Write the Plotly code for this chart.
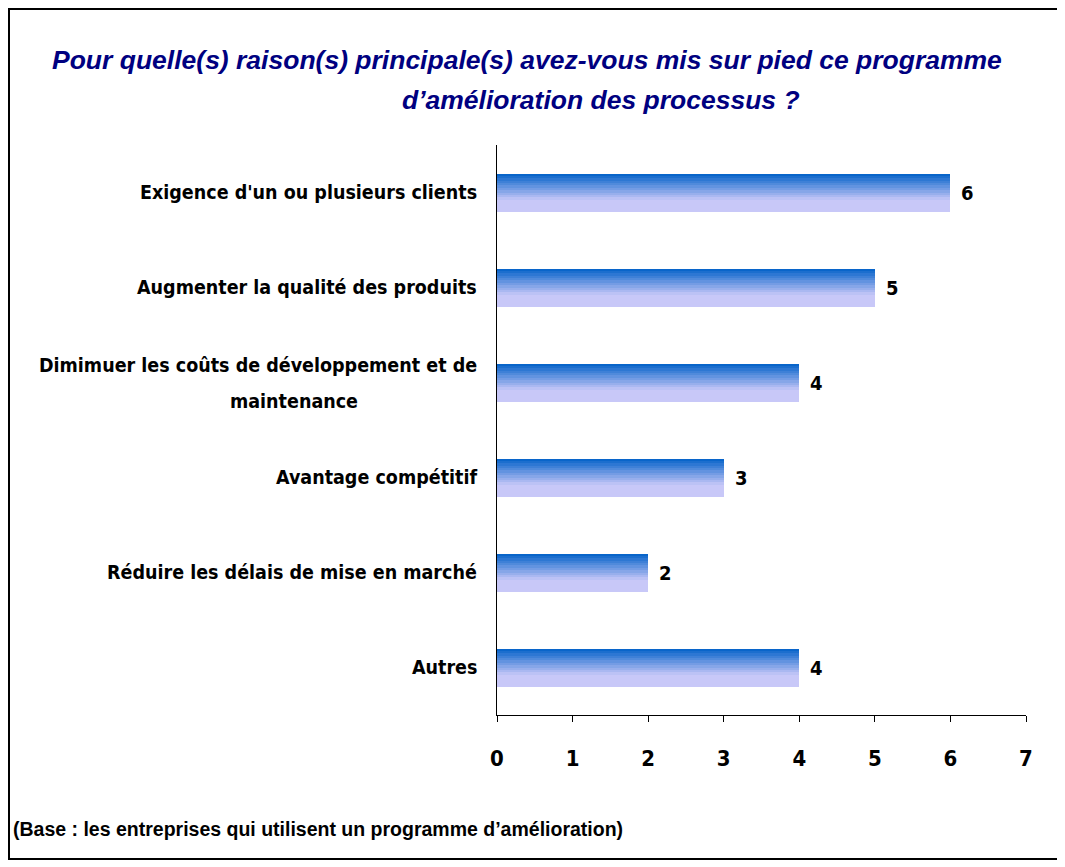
import plotly.graph_objects as go

categories = [
    "Exigence d'un ou plusieurs clients",
    "Augmenter la qualité des produits",
    "Dimimuer les coûts de développement et de<br>maintenance",
    "Avantage compétitif",
    "Réduire les délais de mise en marché",
    "Autres",
]
values = [6, 5, 4, 3, 2, 4]
x_ticks = [0, 1, 2, 3, 4, 5, 6, 7]

title_line1 = "Pour quelle(s) raison(s) principale(s) avez-vous mis sur pied ce programme"
title_line2 = "d\u2019amélioration des processus ?"
footnote = "(Base : les entreprises qui utilisent un programme d\u2019amélioration)"

NARROW = "Liberation Sans Narrow, Arial Narrow, DejaVu Sans Condensed, sans-serif"
ARIAL = "Liberation Sans, Arial, sans-serif"

# page body has an 8px margin: figure pixel = screen pixel - 8
OFF = 8
W, H = 1065 - OFF, 867 - OFF
L, R, T, B = 497 - OFF, 1065 - 1026, 145 - OFF, 867 - 715

def px(x):
    return (x - OFF - L) / (W - L - R)

def py(y):
    return 1 - (y - OFF - T) / (H - T - B)

fig = go.Figure()

# gradient bars built from strips
N = 16
bar_w = 0.4
top = (0, 96, 200)
bot = (200, 200, 248)
for i in range(N):
    t = (i + 0.5) / N
    f = min(t / 0.7, 1.0)
    c = tuple(round(top[k] + (bot[k] - top[k]) * f) for k in range(3))
    fig.add_trace(go.Bar(
        y=categories, x=values, orientation="h",
        width=bar_w / N + 0.002, offset=-bar_w / 2 + i * bar_w / N,
        marker=dict(color="rgb(%d,%d,%d)" % c, line=dict(width=0)),
        hoverinfo="skip", showlegend=False,
    ))

LBL = dict(family=NARROW, size=19.5, color="black")
for cat, v in zip(categories, values):
    fig.add_annotation(x=v, y=cat, xref="x", yref="y", text="<b>%d</b>" % v,
                       showarrow=False, xanchor="left", xshift=9,
                       font=dict(family=NARROW, size=20, color="black"))
    parts = cat.split("<br>")
    if len(parts) == 1:
        fig.add_annotation(x=0, y=cat, xref="paper", yref="y", text="<b>%s</b>" % cat,
                           showarrow=False, xanchor="right", xshift=-18, font=LBL)
    else:
        fig.add_annotation(x=0, y=cat, xref="paper", yref="y", text="<b>%s</b>" % parts[0],
                           showarrow=False, xanchor="right", xshift=-18, yshift=17, font=LBL)
        fig.add_annotation(x=px(294), y=cat, xref="paper", yref="y", text="<b>%s</b>" % parts[1],
                           showarrow=False, xanchor="center", yshift=-19, font=LBL)

fig.add_annotation(x=px(527), y=py(60), xref="paper", yref="paper",
                   text="<b><i>%s</i></b>" % title_line1,
                   showarrow=False, xanchor="center", yanchor="middle",
                   font=dict(family=ARIAL, size=26.5, color="#000080"))
fig.add_annotation(x=px(601), y=py(100), xref="paper", yref="paper",
                   text="<b><i>%s</i></b>" % title_line2,
                   showarrow=False, xanchor="center", yanchor="middle",
                   font=dict(family=ARIAL, size=26.5, color="#000080"))
fig.add_annotation(x=px(11), y=py(829), xref="paper", yref="paper",
                   text="<b>%s</b>" % footnote,
                   showarrow=False, xanchor="left", yanchor="middle",
                   font=dict(family=ARIAL, size=19.5, color="black"))

fig.add_shape(type="rect", xref="paper", yref="paper",
              x0=px(9), x1=px(1063), y0=py(859), y1=py(9),
              line=dict(color="black", width=2), fillcolor="rgba(0,0,0,0)", layer="below")

fig.update_layout(
    width=W, height=H,
    margin=dict(l=L, r=R, t=T, b=B, pad=0),
    barmode="overlay", bargap=0,
    plot_bgcolor="white", paper_bgcolor="white",
    xaxis=dict(range=[0, 7], tickvals=x_ticks, ticks="outside", ticklen=6,
               tickcolor="black", showline=True, linecolor="black", linewidth=1,
               showgrid=False, zeroline=False, ticklabelstandoff=18,
               tickfont=dict(family=NARROW, size=22, color="black", weight="bold"),
               fixedrange=True),
    yaxis=dict(autorange="reversed", showticklabels=False, showline=True,
               linecolor="black", linewidth=1, showgrid=False, ticks="",
               fixedrange=True),
)

fig.write_html("out.html")
